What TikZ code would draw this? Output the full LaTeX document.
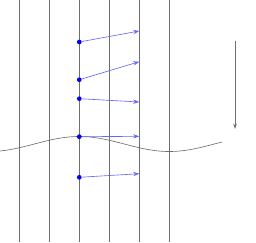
\documentclass[tikz,border=0pt]{standalone}
\usepackage{xcolor}
\usepackage{tikz}
\usetikzlibrary{positioning,arrows.meta,calc}
\definecolor{gridline}{HTML}{6E6E6E}
\definecolor{vecblue}{HTML}{0000FF}

\begin{document}
\begin{tikzpicture}[
  fiber/.style={draw=gridline, line width=0.6pt},
  dot/.style={circle, fill=vecblue, inner sep=0pt, minimum size=4.5pt},
  vec/.style={-{Stealth[length=2mm,width=1.4mm]}, draw=vecblue!60, line width=0.6pt},
  wave/.style={draw=gridline, line width=0.6pt},
  flow/.style={-{Stealth[length=1.8mm,width=1.2mm]}, draw=gridline, line width=0.9pt}]

\useasboundingbox (0,0) rectangle (8.533,8.067);

% vertical lines
\foreach \i in {0,...,5}
  \draw[fiber] (0.65+\i,0) -- (0.65+\i,8.067);

% wavy line
\draw[wave] plot[domain=0:7.4, samples=80, smooth] (\x,{3.267+0.25*cos(deg(2*pi*(\x-2.643)/6))});

% points with their vectors
\foreach \n/\y/\dy in {a/6.667/0.367, b/5.41/0.6, c/4.777/-0.11, d/3.51/0.013, e/2.157/0.12} {
  \node[dot] (p\n) at (2.643,\y) {};
  \coordinate (q\n) at ($(p\n)+(2,\dy)$);
  \draw[vec] (p\n) -- (q\n);
}

% direction arrow
\coordinate (top) at (7.833,6.7);
\coordinate (bot) at (7.833,3.767);
\draw[flow] (top) -- (bot);
\end{tikzpicture}
\end{document}
